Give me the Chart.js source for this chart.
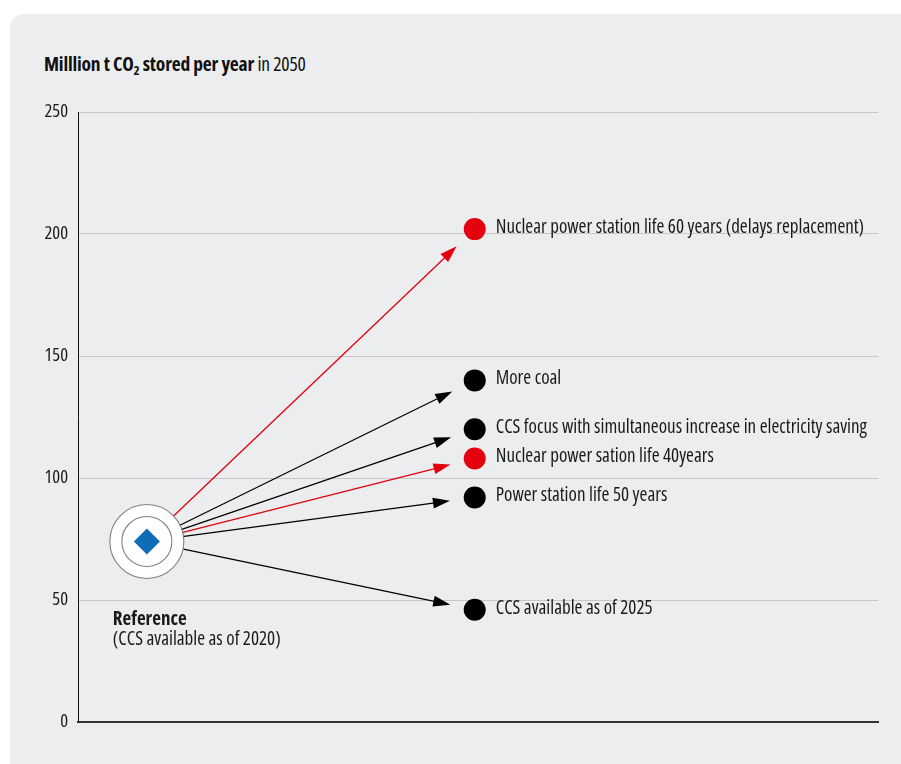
<!DOCTYPE html>
<html>
<head>
<meta charset="utf-8">
<script src="https://cdn.jsdelivr.net/npm/chart.js@4"></script>
<style>
  html, body { margin: 0; padding: 0; background: #ffffff; }
  body { width: 901px; height: 764px; position: relative; overflow: hidden; font-family: "Open Sans", sans-serif; font-stretch: 75%; }
  #panel { position: absolute; left: 10px; top: 14px; width: 920px; height: 780px; background: #ecedef; border-top-left-radius: 14px; }
  #title { position: absolute; left: 44px; top: 50px; font-size: 19.5px; color: #111; white-space: nowrap; letter-spacing: -0.2px; }
  #title b { font-weight: 700; }
  #title sub { font-size: 13px; vertical-align: -4px; line-height: 0; }
  #wrap { position: absolute; left: 0; top: 0; width: 901px; height: 764px; }
</style>
</head>
<body>
<div id="panel"></div>
<div id="title"><b>Milllion t CO<sub>2</sub> stored per year</b> in 2050</div>
<div id="wrap"><canvas id="myChart" width="901" height="764"></canvas></div>
<script>
// values (million t CO2 per year in 2050)
const refValue = 74;
const refLabel = "Reference";
const refNote = "(CCS available as of 2020)";
const scenarioLabels = [
  "Nuclear power station life 60 years (delays replacement)",
  "More coal",
  "CCS focus with simultaneous increase in electricity saving",
  "Nuclear power sation life 40years",
  "Power station life 50 years",
  "CCS available as of 2025"
];
const scenarioValues = [202, 140, 120, 108, 92, 46];
const nuclearCase = [true, false, false, true, false, false];
const yTicks = [0, 50, 100, 150, 200, 250];
// x is just "start" vs "2050 outcome"
const refX = 1;
const scenarioX = 6;

const RED = '#e3000f';
const BLACK = '#000000';
const FAMILY = '"Open Sans", sans-serif';

const scenarioPoints = scenarioValues.map(v => ({x: scenarioX, y: v}));
const scenarioColors = nuclearCase.map(n => n ? RED : BLACK);

function setFont(ctx, weight, size) {
  ctx.font = 'condensed ' + weight + ' ' + size + 'px ' + FAMILY;
  if ('fontStretch' in ctx) ctx.fontStretch = 'condensed';
}

// arrows from the reference to every scenario, plus the text labels
const arrowPlugin = {
  id: 'arrows',
  beforeDatasetsDraw(chart) {
    const {ctx, scales: {x, y}} = chart;
    const x0 = x.getPixelForValue(refX), y0 = y.getPixelForValue(refValue);
    ctx.save();
    scenarioValues.forEach((v, i) => {
      const x1 = x.getPixelForValue(scenarioX), y1 = y.getPixelForValue(v);
      const dx = x1 - x0, dy = y1 - y0;
      const len = Math.sqrt(dx * dx + dy * dy);
      const ux = dx / len, uy = dy / len;
      const sx = x0 + ux * 30, sy = y0 + uy * 30;
      const tx = x1 - ux * 25, ty = y1 - uy * 25;
      const headL = 17, headW = 5.5;
      const bx = tx - ux * headL, by = ty - uy * headL;
      ctx.strokeStyle = scenarioColors[i];
      ctx.fillStyle = scenarioColors[i];
      ctx.lineWidth = 1.3;
      ctx.beginPath();
      ctx.moveTo(sx, sy);
      ctx.lineTo(bx + ux * 2, by + uy * 2);
      ctx.stroke();
      ctx.beginPath();
      ctx.moveTo(tx, ty);
      ctx.lineTo(bx - uy * headW, by + ux * headW);
      ctx.lineTo(bx + uy * headW, by - ux * headW);
      ctx.closePath();
      ctx.fill();
    });
    ctx.restore();
  },
  afterDatasetsDraw(chart) {
    const {ctx, chartArea, scales: {x, y}} = chart;
    ctx.save();
    ctx.fillStyle = '#1a1a1a';
    ctx.textBaseline = 'middle';
    // y tick labels (drawn here so they can use the condensed face)
    ctx.textAlign = 'right';
    setFont(ctx, 'normal', 18.5);
    yTicks.forEach(t => ctx.fillText(String(t), chartArea.left - 10, y.getPixelForValue(t)));
    ctx.textAlign = 'left';
    setFont(ctx, 'normal', 19);
    scenarioValues.forEach((v, i) => {
      ctx.fillText(scenarioLabels[i], x.getPixelForValue(scenarioX) + 21, y.getPixelForValue(v) - 1.5);
    });
    const rx = x.getPixelForValue(refX), ry = y.getPixelForValue(refValue);
    setFont(ctx, 'bold', 19);
    ctx.fillText(refLabel, rx - 34, ry + 78);
    setFont(ctx, 'normal', 19);
    ctx.fillText(refNote, rx - 34, ry + 98);
    ctx.restore();
  }
};

const myChart = new Chart(document.getElementById('myChart'), {
  type: 'scatter',
  data: {
    datasets: [
      { // diamond on top
        data: [{x: refX, y: refValue}],
        pointStyle: 'rectRot', pointRadius: 13, pointHoverRadius: 13,
        backgroundColor: '#0f6cb6', borderColor: '#0f6cb6', borderWidth: 0,
        order: 1
      },
      {
        data: [{x: refX, y: refValue}],
        pointRadius: 25, pointHoverRadius: 25,
        backgroundColor: '#ffffff', borderColor: '#808080', borderWidth: 1.1,
        order: 2
      },
      {
        data: [{x: refX, y: refValue}],
        pointRadius: 37, pointHoverRadius: 37,
        backgroundColor: '#ffffff', borderColor: '#808080', borderWidth: 1.1,
        order: 3
      },
      {
        data: scenarioPoints,
        pointRadius: 11, pointHoverRadius: 11,
        backgroundColor: scenarioColors, borderColor: scenarioColors, borderWidth: 0,
        order: 4
      }
    ]
  },
  options: {
    responsive: false,
    animation: false,
    devicePixelRatio: 1,
    layout: { autoPadding: false, padding: { left: 0, top: 112, right: 23, bottom: 42 } },
    plugins: { legend: { display: false }, tooltip: { enabled: false }, title: { display: false } },
    scales: {
      x: {
        type: 'linear', min: -0.05, max: 12.15,
        ticks: { display: false },
        grid: { display: false },
        border: { display: true, color: '#333333', width: 2 },
        afterFit(scale) { scale.height = 0; }
      },
      y: {
        min: 0, max: 250,
        afterBuildTicks(scale) { scale.ticks = yTicks.map(v => ({value: v})); },
        ticks: { display: false },
        grid: { color: '#c6c7c9', lineWidth: 1, drawTicks: false },
        border: { display: true, color: '#111111', width: 1 },
        afterFit(scale) { scale.width = 78; }
      }
    }
  },
  plugins: [arrowPlugin]
});
</script>
</body>
</html>
